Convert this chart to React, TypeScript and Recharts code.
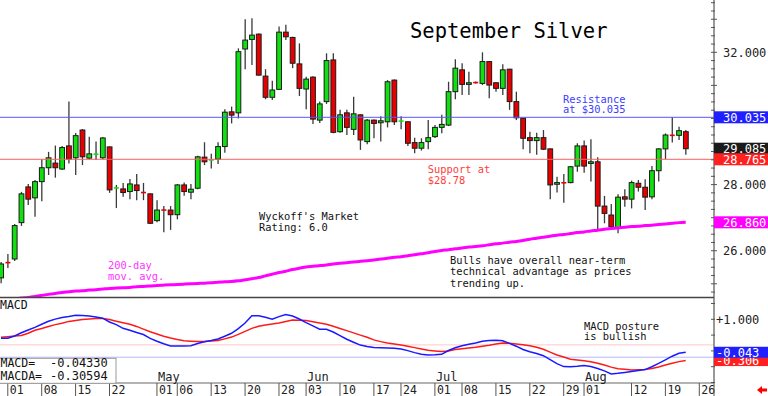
import React from "react";
import { ComposedChart, Bar, Line, XAxis, YAxis, ReferenceLine } from "recharts";

const FONT = "'DejaVu Sans Mono', monospace";

// trading dates (2024)
const dates = [
  "03-28",
  "04-01","04-02","04-03","04-04","04-05",
  "04-08","04-09","04-10","04-11","04-12",
  "04-15","04-16","04-17","04-18","04-19",
  "04-22","04-23","04-24","04-25","04-26",
  "04-29","04-30","05-01","05-02","05-03",
  "05-06","05-07","05-08","05-09","05-10",
  "05-13","05-14","05-15","05-16","05-17",
  "05-20","05-21","05-22","05-23","05-24",
  "05-28","05-29","05-30","05-31",
  "06-03","06-04","06-05","06-06","06-07",
  "06-10","06-11","06-12","06-13","06-14",
  "06-17","06-18","06-20","06-21",
  "06-24","06-25","06-26","06-27","06-28",
  "07-01","07-02","07-03","07-05",
  "07-08","07-09","07-10","07-11","07-12",
  "07-15","07-16","07-17","07-18","07-19",
  "07-22","07-23","07-24","07-25","07-26",
  "07-29","07-30","07-31","08-01","08-02",
  "08-05","08-06","08-07","08-08","08-09",
  "08-12","08-13","08-14","08-15","08-16",
  "08-19","08-20","08-21","08-22",
];
const futureDates = ["08-23", "08-26"];
const allDates = [...dates, ...futureDates];

const tickDates = ["04-01","04-08","04-15","04-22","05-01","05-06","05-13","05-20","05-28","06-03","06-10","06-17","06-24","07-01","07-08","07-15","07-22","07-29","08-01","08-12","08-19","08-26"];
const monthStarts: Record<string, string> = { "05-01": "May", "06-03": "Jun", "07-01": "Jul", "08-01": "Aug" };

const opens = [
  25.18,25.65,25.75,26.85,27.93,27.60,28.09,28.51,28.65,28.47,
  29.17,28.81,29.65,28.80,28.91,28.81,29.14,27.89,27.87,27.79,
  27.99,27.77,27.72,26.91,27.24,27.23,27.09,27.99,27.77,27.89,
  28.83,28.74,28.77,29.15,30.20,30.17,32.10,32.39,32.55,31.28,
  30.64,30.88,32.61,32.45,31.65,30.89,31.25,29.95,30.51,31.77,
  29.60,30.17,29.67,30.11,29.30,29.95,29.87,29.90,31.16,29.91,
  29.90,29.27,29.10,29.30,29.45,29.73,29.80,30.81,31.47,31.03,
  31.09,31.06,31.72,31.08,30.91,31.49,30.51,30.01,29.42,29.33,
  29.42,29.08,28.01,28.06,28.06,28.56,29.17,28.64,28.69,27.35,
  27.08,26.70,27.63,27.56,28.04,27.92,27.63,28.42,29.08,29.50,
  29.49,29.60,
];
const highs = [
  25.66,25.90,26.81,27.78,28.02,28.14,28.77,28.99,29.18,29.17,
  30.51,29.56,29.68,29.45,29.30,29.44,29.15,27.99,28.05,28.17,
  28.32,28.05,27.73,27.53,27.35,27.35,28.02,28.06,28.02,28.87,
  29.28,28.93,29.28,30.28,30.36,32.12,33.00,33.03,32.57,31.49,
  31.14,32.78,32.83,32.47,32.27,31.26,31.28,30.51,31.97,31.97,
  30.26,30.26,30.66,30.12,29.98,29.97,30.07,31.16,31.18,30.07,
  29.91,29.42,29.40,29.95,29.80,30.11,31.11,31.79,31.67,31.41,
  31.12,32.00,31.73,31.09,31.64,31.50,30.81,30.01,29.60,29.57,
  29.65,29.09,28.24,28.32,28.56,29.25,29.33,29.37,28.83,27.66,
  27.41,27.71,27.86,28.12,28.14,28.16,28.56,29.10,29.55,30.04,
  29.75,29.65,
];
const lows = [
  25.02,25.48,25.69,26.75,27.38,27.03,27.50,28.29,28.21,28.44,
  28.64,28.29,28.59,28.77,28.74,28.77,27.75,27.29,27.63,27.56,
  27.53,27.53,26.81,26.86,26.56,26.63,26.95,27.66,27.56,27.86,
  28.59,28.49,28.62,28.96,29.85,30.00,31.49,31.62,31.30,30.58,
  30.56,30.86,32.37,31.52,30.68,30.28,29.83,29.86,30.44,29.55,
  29.57,29.50,29.50,29.05,29.22,29.40,29.30,29.73,29.80,29.67,
  29.17,28.95,29.03,29.07,29.41,29.55,29.77,30.58,30.71,30.71,
  31.06,31.01,30.61,30.81,30.71,30.26,29.95,29.07,28.95,28.90,
  29.05,27.56,27.76,27.45,28.04,28.39,28.36,28.09,26.61,26.83,
  26.71,26.53,27.33,27.28,27.79,27.23,27.56,28.09,28.77,29.27,
  29.35,28.90,
];
const closes = [
  25.60,25.63,26.76,27.72,27.56,28.09,28.51,28.81,28.51,29.12,
  28.77,29.48,28.84,28.93,28.93,29.41,27.84,27.91,27.76,28.02,
  27.82,27.75,26.83,27.23,27.22,27.09,27.99,27.79,27.86,28.84,
  28.69,28.75,29.15,30.19,30.10,32.02,32.37,32.52,31.31,30.64,
  30.86,32.61,32.47,31.67,30.91,31.19,29.98,30.44,31.75,29.58,
  30.11,29.73,30.14,29.35,29.95,29.85,29.93,31.11,29.90,29.93,
  29.25,29.10,29.27,29.42,29.73,29.82,30.81,31.52,31.03,31.08,
  31.08,31.72,31.01,30.91,31.47,30.51,30.02,29.40,29.33,29.42,
  29.07,27.99,28.06,28.05,28.54,29.17,28.56,28.69,27.35,27.13,
  26.73,27.62,27.56,28.06,27.92,27.62,28.42,29.08,29.50,29.48,
  29.63,29.085,
];
const ma200 = [
  24.48,24.51,24.54,24.57,24.59,24.62,24.65,24.68,24.71,24.74,
  24.76,24.78,24.79,24.81,24.82,24.84,24.86,24.87,24.88,24.89,
  24.91,24.92,24.93,24.95,24.96,24.97,24.98,24.99,25.00,25.01,
  25.02,25.03,25.05,25.06,25.07,25.09,25.12,25.15,25.19,25.24,
  25.29,25.34,25.38,25.43,25.47,25.51,25.53,25.55,25.57,25.60,
  25.62,25.64,25.66,25.68,25.70,25.72,25.75,25.77,25.80,25.82,
  25.85,25.88,25.91,25.94,25.98,26.01,26.03,26.06,26.08,26.11,
  26.13,26.15,26.18,26.21,26.23,26.26,26.28,26.31,26.35,26.38,
  26.41,26.44,26.47,26.49,26.52,26.55,26.57,26.60,26.62,26.65,
  26.67,26.69,26.71,26.73,26.74,26.76,26.77,26.79,26.81,26.83,
  26.85,26.86,
];
const macd = [
  0.399,0.399,0.472,0.573,0.661,0.744,0.842,0.937,1.006,1.060,
  1.092,1.130,1.123,1.108,1.070,1.035,0.915,0.832,0.715,0.652,
  0.585,0.519,0.396,0.304,0.225,0.155,0.155,0.155,0.161,0.234,
  0.288,0.329,0.377,0.465,0.557,0.703,0.883,1.111,1.114,1.063,
  1.003,1.085,1.152,1.104,1.009,0.896,0.791,0.687,0.684,0.598,
  0.484,0.370,0.275,0.184,0.136,0.104,0.098,0.095,0.085,0.060,
  0.009,-0.054,-0.104,-0.127,-0.120,-0.108,0.013,0.098,0.165,0.212,
  0.250,0.307,0.329,0.339,0.323,0.237,0.149,0.044,-0.028,-0.082,
  -0.152,-0.275,-0.405,-0.497,-0.500,-0.484,-0.459,-0.497,-0.557,-0.633,
  -0.728,-0.709,-0.680,-0.649,-0.620,-0.592,-0.503,-0.396,-0.285,-0.168,
  -0.076,-0.0433,
];
const signal = [
  0.434,0.449,0.468,0.487,0.557,0.655,0.709,0.772,0.832,0.877,
  0.934,0.965,0.997,1.009,1.022,1.028,0.991,0.940,0.892,0.842,
  0.775,0.690,0.604,0.535,0.465,0.408,0.361,0.323,0.307,0.294,
  0.301,0.310,0.326,0.380,0.437,0.522,0.617,0.712,0.782,0.823,
  0.851,0.883,0.930,0.975,0.968,0.959,0.921,0.883,0.845,0.778,
  0.709,0.642,0.570,0.500,0.430,0.348,0.294,0.250,0.218,0.187,
  0.149,0.104,0.060,0.019,-0.003,-0.022,0.000,0.044,0.066,0.092,
  0.114,0.149,0.180,0.218,0.253,0.244,0.218,0.193,0.161,0.114,
  0.054,-0.038,-0.130,-0.193,-0.266,-0.288,-0.313,-0.342,-0.392,-0.449,
  -0.513,-0.563,-0.579,-0.604,-0.595,-0.585,-0.554,-0.509,-0.446,-0.392,
  -0.339,-0.30594,
];

const resistance = 30.035;
const support = 28.765;
const priceLabels = [26, 28, 32];
const macdLabels = [1];

const last = dates.length - 1;
const lastClose = closes[last];
const lastMa = ma200[last];
const lastMacd = macd[last];
const lastSignal = signal[last];

const rows = dates.map((d, i) => ({
  i,
  date: d,
  open: opens[i],
  high: highs[i],
  low: lows[i],
  close: closes[i],
  ma: ma200[i],
  macd: macd[i],
  signal: signal[i],
}));

const tickIdx = tickDates.map((d) => allDates.indexOf(d));

const GREEN = "#10e010";
const RED = "#e80000";
const X_DOMAIN: [number, number] = [-0.15, 105.17];

const priceBoxes = [
  { value: resistance, bg: "#2020ff" },
  { value: lastClose, bg: "#1a1a1a" },
  { value: support, bg: "#ff2020" },
  { value: lastMa, bg: "#ff00ff" },
];
const minorPriceTicks: number[] = [];
for (let v = 24.75; v <= 33.5; v += 0.25) minorPriceTicks.push(Math.round(v * 100) / 100);
const priceTicks = [...minorPriceTicks, ...priceBoxes.map((b) => b.value)];

const macdBoxes = [
  { value: lastSignal, bg: "#ff2020" },
  { value: lastMacd, bg: "#2020ff" },
];
const macdTicks = [-1, -0.5, 0, 0.5, 1, 1.5, ...macdBoxes.map((b) => b.value)];

const Candle = (props: any) => {
  const { x, y, width, height, payload } = props;
  if (x == null || y == null || !payload) return null;
  const top0 = Math.min(y, y + height);
  const h = Math.abs(height);
  const { open, close, high, low } = payload;
  const span = high - low;
  const py = (v: number) => (span === 0 ? top0 : top0 + ((high - v) / span) * h);
  const cx = x + width / 2;
  const up = close >= open;
  const bt = py(Math.max(open, close));
  const bb = py(Math.min(open, close));
  const bh = bb - bt;
  return (
    <g>
      <line x1={cx} x2={cx} y1={top0} y2={top0 + h} stroke="#3a3a3a" strokeWidth={1.3} />
      {bh < 1.6 ? (
        <line x1={cx - 2.5} x2={cx + 2.5} y1={(bt + bb) / 2} y2={(bt + bb) / 2} stroke={up ? GREEN : RED} strokeWidth={1.6} />
      ) : (
        <rect x={cx - 2.4} y={bt} width={4.8} height={bh} fill={up ? GREEN : RED} stroke="#1a1a1a" strokeWidth={1} />
      )}
    </g>
  );
};

const PriceTick = (props: any) => {
  const { x, y, payload } = props;
  const v = payload.value;
  const box = priceBoxes.find((b) => b.value === v);
  if (box) {
    return (
      <g>
        <rect x={x} y={y - 6} width={54} height={12} fill={box.bg} />
        <text x={x + 9} y={y + 4.5} fill="#fff" fontSize={12} fontFamily={FONT}>{v.toFixed(3)}</text>
      </g>
    );
  }
  const major = Math.abs(v - Math.round(v)) < 1e-6;
  return (
    <g>
      <line x1={x - 3} x2={x + (major ? 3 : 1)} y1={y} y2={y} stroke="#555" />
      {priceLabels.includes(v) && (
        <text x={x + 9} y={y + 4.5} fill="#222" fontSize={12} fontFamily={FONT}>{v.toFixed(3)}</text>
      )}
    </g>
  );
};

const MacdTick = (props: any) => {
  const { x, y, payload } = props;
  const v = payload.value;
  const box = macdBoxes.find((b) => b.value === v);
  if (box) {
    return (
      <g>
        <rect x={x} y={y - 5.5} width={54} height={11} fill={box.bg} />
        <text x={x + 2} y={y + 4.5} fill="#fff" fontSize={12} fontFamily={FONT}>{v.toFixed(3)}</text>
      </g>
    );
  }
  return (
    <g>
      <line x1={x - 3} x2={x + 1} y1={y} y2={y} stroke="#555" />
      {macdLabels.includes(v) && (
        <text x={x + 2} y={y + 4.5} fill="#222" fontSize={12} fontFamily={FONT}>{(v > 0 ? "+" : "") + v.toFixed(3)}</text>
      )}
    </g>
  );
};

const DateTick = (props: any) => {
  const { x, y, payload } = props;
  const d = allDates[payload.value];
  if (!d) return null;
  const month = monthStarts[d];
  return (
    <g>
      <line x1={x} x2={x} y1={y} y2={y + 13} stroke="#555" />
      <text x={x + 2} y={y + 11} fontSize={11.5} fill="#222" fontFamily={FONT}>{d.slice(3)}</text>
      {month && (
        <text x={x + 1} y={y - 2.5} fontSize={12} fill="#222" fontFamily={FONT}>{month}</text>
      )}
    </g>
  );
};

const T = (p: { x: number; y: number; c: string; s?: number; children: React.ReactNode }) => (
  <text x={p.x} y={p.y} fill={p.c} fontSize={p.s ?? 10.4} fontFamily={FONT} style={{ whiteSpace: "pre" }}>
    {p.children}
  </text>
);

export default function App() {
  return (
    <div style={{ position: "absolute", left: 0, top: 0, width: 768, height: 396, background: "#fff", overflow: "hidden" }}>
      <div style={{ position: "absolute", left: 0, top: 0 }}>
        <ComposedChart width={768} height={297} data={rows} margin={{ top: 0, right: 0, bottom: 0, left: 0 }}>
          <XAxis type="number" dataKey="i" domain={X_DOMAIN} allowDataOverflow hide />
          <YAxis
            orientation="right"
            width={54}
            domain={[24.601, 33.582]}
            allowDataOverflow
            ticks={priceTicks}
            interval={0}
            tick={<PriceTick />}
            tickLine={false}
            tickSize={0}
            tickMargin={0}
            axisLine={{ stroke: "#555", strokeWidth: 1.2 }}
          />
          <ReferenceLine y={resistance} stroke="#5858ff" strokeWidth={1} />
          <ReferenceLine y={support} stroke="#ff6060" strokeWidth={1} />
          <Line type="monotone" dataKey="ma" stroke="#ff00ff" strokeWidth={3} dot={false} isAnimationActive={false} />
          <Bar dataKey={(d: any) => [d.low, d.high]} barSize={5} shape={<Candle />} isAnimationActive={false} />
        </ComposedChart>
      </div>
      <div style={{ position: "absolute", left: 0, top: 297 }}>
        <ComposedChart width={768} height={99} data={rows} margin={{ top: 0, right: 0, bottom: 0, left: 0 }}>
          <XAxis
            type="number"
            dataKey="i"
            domain={X_DOMAIN}
            allowDataOverflow
            ticks={tickIdx}
            interval={0}
            height={13}
            tick={<DateTick />}
            tickLine={false}
            tickSize={0}
            tickMargin={0}
            axisLine={{ stroke: "#666" }}
          />
          <YAxis
            orientation="right"
            width={54}
            domain={[-1.0158, 1.7057]}
            allowDataOverflow
            ticks={macdTicks}
            interval={0}
            tick={<MacdTick />}
            tickLine={false}
            tickSize={0}
            tickMargin={0}
            axisLine={{ stroke: "#555", strokeWidth: 1.2 }}
          />
          <ReferenceLine y={0.19} stroke="#ffc8c8" strokeWidth={1} />
          <ReferenceLine y={-0.2} stroke="#b8b8ff" strokeWidth={1} />
          <Line type="linear" dataKey="signal" stroke="#ff1a1a" strokeWidth={1.5} dot={false} isAnimationActive={false} />
          <Line type="linear" dataKey="macd" stroke="#1a1aff" strokeWidth={1.5} dot={false} isAnimationActive={false} />
        </ComposedChart>
      </div>
      <svg width={768} height={396} style={{ position: "absolute", left: 0, top: 0, pointerEvents: "none" }}>
        <line x1={0} x2={714} y1={297.5} y2={297.5} stroke="#444" strokeWidth={1.5} />
        <line x1={714} x2={714} y1={383} y2={396} stroke="#555" />
        <T x={410} y={38} c="#000" s={20.5}>September Silver</T>
        <T x={563} y={103.3} c="#3c3cff">Resistance</T>
        <T x={563} y={113.3} c="#3c3cff">at $30.035</T>
        <T x={427.7} y={173} c="#ff3c3c">Support at</T>
        <T x={427.7} y={184} c="#ff3c3c">$28.78</T>
        <T x={259} y={220} c="#111">Wyckoff's Market</T>
        <T x={259} y={230.8} c="#111">Rating: 6.0</T>
        <T x={108} y={269} c="#ff33ff">200-day</T>
        <T x={108} y={279.5} c="#ff33ff">mov. avg.</T>
        <T x={450} y={264} c="#111">Bulls have overall near-term</T>
        <T x={450} y={275.3} c="#111">technical advantage as prices</T>
        <T x={450} y={286.5} c="#111">trending up.</T>
        <T x={584} y={329.6} c="#111">MACD posture</T>
        <T x={584} y={340.2} c="#111">is bullish</T>
        <T x={0} y={309.3} c="#111" s={11.5}>MACD</T>
        <rect x={-1} y={358.3} width={117} height={25} fill="#fff" stroke="#999" />
        <T x={0.5} y={367.3} c="#111" s={11.5}>MACD=</T>
        <T x={50} y={367.3} c="#111" s={12}>{lastMacd.toFixed(5)}</T>
        <T x={0.5} y={379.5} c="#111" s={11.5}>MACDA=</T>
        <T x={50} y={379.5} c="#111" s={12}>{lastSignal.toFixed(5)}</T>
        <polygon points="757,390 762,386 762,388.5 767,388.5 767,391.5 762,391.5 762,394" fill="#ff0000" />
      </svg>
    </div>
  );
}
